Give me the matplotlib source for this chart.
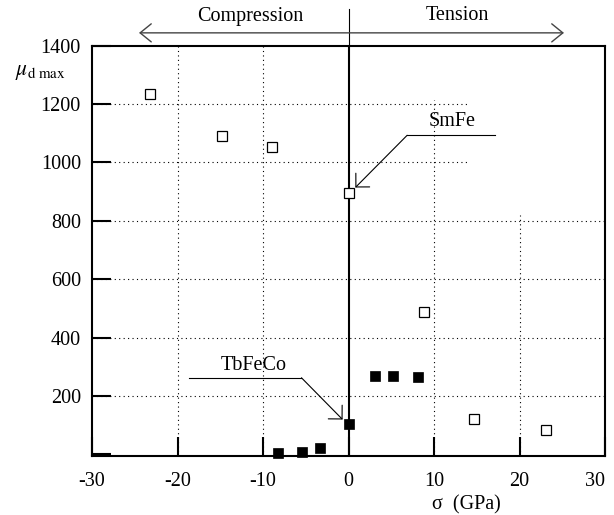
import matplotlib
matplotlib.use("Agg")
import matplotlib.pyplot as plt

# ---- data ----
smfe_x = [-23.2, -14.8, -8.9, 0.0, 8.8, 14.7, 23.1]
smfe_y = [1233, 1091, 1054, 896, 489, 122, 82]
tbfeco_x = [-8.2, -5.4, -3.3, 0.0, 3.1, 5.2, 8.1]
tbfeco_y = [3, 6, 20, 102, 268, 268, 263]
xticks = [-30, -20, -10, 0, 10, 20, 30]
yticks = [0, 200, 400, 600, 800, 1000, 1200, 1400]
ytick_labels = ['', '200', '400', '600', '800', '1000', '1200', '1400']

plt.rcParams['font.family'] = ['Liberation Serif', 'DejaVu Serif']
plt.rcParams['mathtext.fontset'] = 'stix'
FS = 14.5

W, H = 614, 515
fig = plt.figure(figsize=(W / 100, H / 100), dpi=100)
ax = fig.add_axes([92 / W, 1 - 455.7 / H, (605 - 92) / W, (455.7 - 45.7) / H])
ax.set_xlim(-30, 30)
ax.set_ylim(-5, 1400)

for s in ax.spines.values():
    s.set_linewidth(1.5)

# partial dotted grid
gkw = dict(color='black', lw=0.8, linestyle=(0, (1, 3)), zorder=1)
ax.vlines([-20, -10], -5, 1400, **gkw)
ax.vlines([10], -5, 1215, **gkw)
ax.vlines([20], -5, 820, **gkw)
ax.hlines([200, 400, 600, 800], -30, 30, **gkw)
ax.hlines([1000, 1200], -30, 13.9, **gkw)

# zero line
ax.axvline(0, color='black', lw=1.5, zorder=2)
ax.plot([0, 0], [1400, 1526], color='black', lw=0.8, clip_on=False, zorder=2)

# compression / tension arrow
ax.annotate('', xy=(-24.5, 1444), xytext=(25.2, 1444), annotation_clip=False,
            arrowprops=dict(arrowstyle='<->,head_length=0.8,head_width=0.65',
                            color='#444444', lw=1.0, shrinkA=0, shrinkB=0,
                            mutation_scale=10))
fig.text(250.6 / W, 1 - 16 / H, 'Compression', ha='center', va='center', fontsize=FS)
fig.text(457 / W, 1 - 16 / H, 'Tension', ha='center', va='center', fontsize=FS)

# data
ax.plot(smfe_x, smfe_y, 's', ms=7.3, mfc='white', mec='black', mew=0.9,
        clip_on=False, zorder=5)
ax.plot(tbfeco_x, tbfeco_y, 's', ms=7.8, mfc='black', mec='black', mew=0.5,
        clip_on=False, zorder=5)

# annotations
akw = dict(arrowstyle='->,head_length=0.7,head_width=0.7', color='black',
           lw=0.8, shrinkA=0, shrinkB=0, mutation_scale=10)
ax.plot([6.86, 17.1], [1093, 1093], color='black', lw=0.8)
ax.annotate('', xy=(0.8, 914), xytext=(6.86, 1093), arrowprops=akw)
ax.text(12.1, 1141, 'SmFe', ha='center', va='center', fontsize=FS)

ax.plot([-18.7, -5.5], [262, 262], color='black', lw=0.8)
ax.annotate('', xy=(-0.69, 119), xytext=(-5.5, 262), arrowprops=akw)
ax.text(-11.1, 305, 'TbFeCo', ha='center', va='center', fontsize=FS)

# ticks
ax.set_xticks(xticks)
ax.set_xticklabels([str(v) for v in xticks])
ax.set_yticks(yticks)
ax.set_yticklabels(ytick_labels)
ax.tick_params(direction='in', length=14, width=1.5, labelsize=FS)
ax.tick_params(axis='x', pad=12)
ax.tick_params(axis='y', pad=8)
ax.tick_params(top=False, right=False)
ax.get_xticklabels()[-1].set_ha('right')

fig.text(466 / W, 1 - 505 / H, 'σ  (GPa)', ha='center', va='center', fontsize=FS)
fig.text(15 / W, 1 - 73 / H, r'$\mu_{\mathrm{d\ max}}$', ha='left', va='center',
         fontsize=FS + 1)

fig.savefig('out.png', dpi=100)
